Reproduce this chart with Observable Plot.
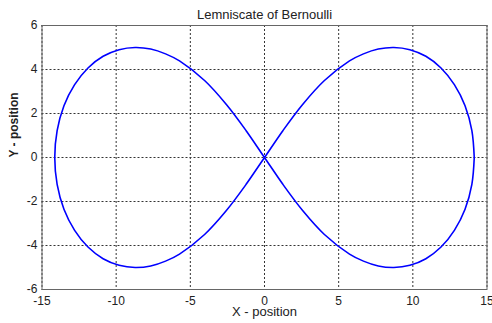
<!DOCTYPE html>
<html>
<head>
<meta charset="utf-8">
<script src="https://cdn.jsdelivr.net/npm/d3@7"></script>
<script src="https://cdn.jsdelivr.net/npm/@observablehq/plot@0.6"></script>
<style>
  html, body { margin: 0; padding: 0; background: #fff; }
  #chart svg { display: block; }
</style>
</head>
<body>
<div id="chart"></div>
<script>
// Lemniscate traced as one closed loop: right tip -> upper right lobe -> origin
// -> lower left lobe -> left tip -> upper left lobe -> origin -> lower right lobe.
const xPos = [
  14.14, 13.98, 13.52, 12.80, 11.90, 10.88, 9.80, 8.72, 7.67, 6.67, 5.73, 4.04, 2.57, 1.25, 0,
  -1.25, -2.57, -4.04, -5.73, -6.67, -7.67, -8.72, -9.80, -10.88, -11.90, -12.80, -13.52, -13.98, -14.14,
  -13.98, -13.52, -12.80, -11.90, -10.88, -9.80, -8.72, -7.67, -6.67, -5.73, -4.04, -2.57, -1.25, 0,
  1.25, 2.57, 4.04, 5.73, 6.67, 7.67, 8.72, 9.80, 10.88, 11.90, 12.80, 13.52, 13.98, 14.14
];
const yPos = [
  0, 1.22, 2.35, 3.31, 4.07, 4.60, 4.90, 5.00, 4.93, 4.71, 4.39, 3.50, 2.41, 1.23, 0,
  -1.23, -2.41, -3.50, -4.39, -4.71, -4.93, -5.00, -4.90, -4.60, -4.07, -3.31, -2.35, -1.22, 0,
  1.22, 2.35, 3.31, 4.07, 4.60, 4.90, 5.00, 4.93, 4.71, 4.39, 3.50, 2.41, 1.23, 0,
  -1.23, -2.41, -3.50, -4.39, -4.71, -4.93, -5.00, -4.90, -4.60, -4.07, -3.31, -2.35, -1.22, 0
];

const xTicks = [-15, -10, -5, 0, 5, 10, 15];
const yTicks = [-6, -4, -2, 0, 2, 4, 6];

const titleText = "Lemniscate of Bernoulli";
const xLabel = "X - position";
const yLabel = "Y - position";

const points = xPos.map((x, i) => ({x, y: yPos[i]}));
const fmt = d => String(d);

const chart = Plot.plot({
  width: 492,
  height: 323,
  marginLeft: 41.5,
  marginRight: 5.5,
  marginTop: 25,
  marginBottom: 34,
  style: {fontFamily: "'Liberation Sans', Arial, sans-serif", fontSize: "12px", color: "#222", background: "#fff"},
  x: {domain: [-15, 15]},
  y: {domain: [-6, 6]},
  marks: [
    Plot.gridX(xTicks, {stroke: "#333", strokeOpacity: 1, strokeDasharray: "2,2"}),
    Plot.gridY(yTicks, {stroke: "#333", strokeOpacity: 1, strokeDasharray: "2,2"}),
    Plot.line(points, {x: "x", y: "y", stroke: "#0000ff", strokeWidth: 1.6, curve: "catmull-rom"}),
    Plot.frame({stroke: "#666", strokeWidth: 1}),
    Plot.axisX(xTicks, {tickSize: 0, tickPadding: 7, tickFormat: fmt, label: null, fontSize: 12}),
    Plot.axisY(yTicks, {tickSize: 0, tickPadding: 4.5, tickFormat: fmt, label: null, fontSize: 12}),
    Plot.text([titleText], {frameAnchor: "top", dy: -15.5, fontSize: 13, fill: "#222"}),
    Plot.text([xLabel], {frameAnchor: "bottom", dy: 26.5, fontSize: 13, fill: "#222"}),
    Plot.text([yLabel], {frameAnchor: "left", dx: -27.5, rotate: -90, fontSize: 12, fontWeight: "bold", fill: "#222"})
  ]
});

document.getElementById("chart").appendChild(chart);
</script>
</body>
</html>
